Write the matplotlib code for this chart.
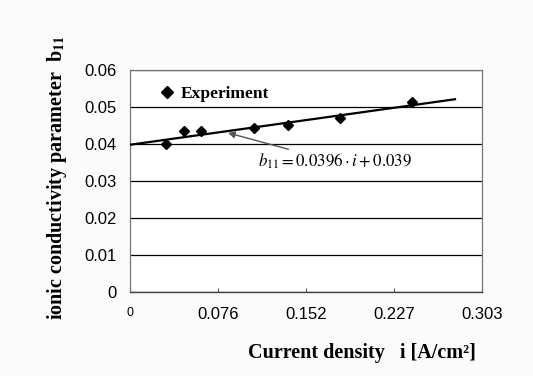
import matplotlib

matplotlib.use("Agg")
import matplotlib.pyplot as plt

# measured points
current_density = [0.0307, 0.0467, 0.0614, 0.107, 0.136, 0.181, 0.2425]
b11_values = [0.0400, 0.0434, 0.0434, 0.0442, 0.0451, 0.0470, 0.0513]

# fitted line as drawn
fit_x = [0.0, 0.2798]
fit_y = [0.0398, 0.0521]

x_ticks = [0.0, 0.0758, 0.1515, 0.2273, 0.303]
x_ticklabels = ["0", "0.076", "0.152", "0.227", "0.303"]
y_ticks = [0.0, 0.01, 0.02, 0.03, 0.04, 0.05, 0.06]
y_ticklabels = ["0", "0.01", "0.02", "0.03", "0.04", "0.05", "0.06"]

plt.rcParams["mathtext.fontset"] = "stix"

fig = plt.figure(figsize=(5.33, 3.76), dpi=100, facecolor="#fbfbfb")
ax = fig.add_axes([0.2439, 0.2234, 0.6604, 0.5904], facecolor="white")

ax.plot(fit_x, fit_y, color="black", lw=1.6, zorder=3)
ax.plot(current_density, b11_values, linestyle="none", marker="D", ms=5.5,
        color="black", label="Experiment", zorder=4)

ax.set_xlim(0, 0.303)
ax.set_ylim(0, 0.06)
ax.set_xticks(x_ticks)
ax.set_xticklabels(x_ticklabels, family="Liberation Sans", fontsize=12)
ax.set_yticks(y_ticks)
ax.set_yticklabels(y_ticklabels, family="Liberation Sans", fontsize=12)
ax.get_xticklabels()[0].set_fontsize(9)
ax.tick_params(axis="x", direction="in", length=3, pad=11, color="#555555")
ax.tick_params(axis="y", length=0, pad=9.5)
ax.yaxis.grid(True, color="black", lw=0.9)
ax.set_axisbelow(True)
for side in ("top", "right", "left"):
    ax.spines[side].set_color("#777777")
    ax.spines[side].set_linewidth(0.9)
ax.spines["bottom"].set_color("#444444")
ax.spines["bottom"].set_linewidth(1.0)

ax.legend(loc="upper left", bbox_to_anchor=(0.035, 1.0), frameon=False,
          handletextpad=0.3, handlelength=1.0, borderaxespad=0.5,
          markerscale=1.2,
          prop={"family": "Liberation Serif", "weight": "bold", "size": 12.5})

ax.annotate(r"$b_{11} = 0.0396\cdot i + 0.039$",
            xy=(0.0844, 0.0430), xytext=(0.1098, 0.0352),
            fontsize=12.2, ha="left", va="center",
            arrowprops=dict(arrowstyle="-|>", color="#555555", lw=1.0,
                            shrinkA=0, shrinkB=0, mutation_scale=10))

fig.text(0.679, 0.062, "Current density   i [A/cm²]", ha="center",
         va="center", family="Liberation Serif", weight="bold", fontsize=14.5)
fig.text(0.107, 0.527, r"ionic conductivity parameter  b$_{\mathbf{11}}$",
         rotation=90, ha="center", va="center",
         family="Liberation Serif", weight="bold", fontsize=14.5)

fig.savefig("out.png", dpi=100, facecolor=fig.get_facecolor())
